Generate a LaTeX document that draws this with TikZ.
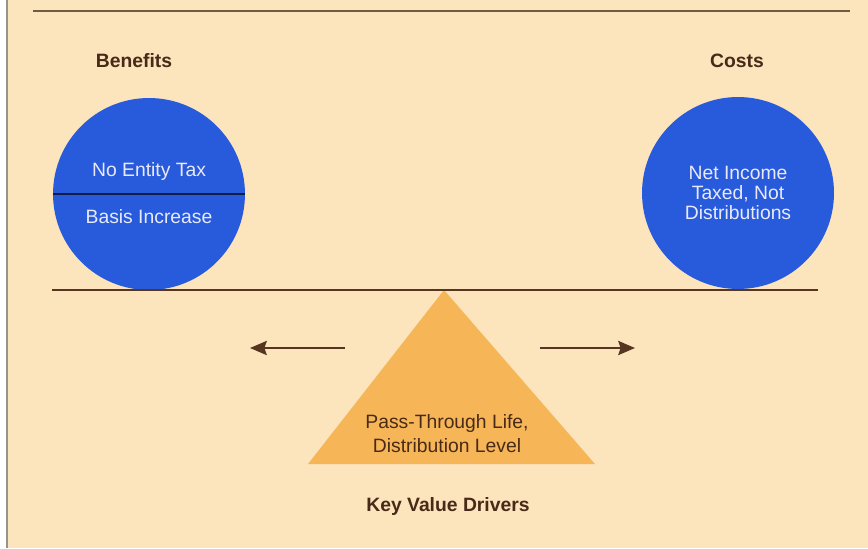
\documentclass[tikz,border=0pt]{standalone}
\usepackage{fontspec}
\setmainfont{Liberation Sans}
\usetikzlibrary{arrows.meta}

\definecolor{paper}{RGB}{252,228,188}
\definecolor{edge}{RGB}{150,146,140}
\definecolor{disc}{RGB}{40,90,220}
\definecolor{discink}{RGB}{232,234,248}
\definecolor{divider}{RGB}{16,28,70}
\definecolor{beam}{RGB}{86,54,32}
\definecolor{topline}{RGB}{112,92,62}
\definecolor{ink}{RGB}{72,42,24}
\definecolor{fulcrum}{RGB}{246,182,88}

\begin{document}
\begin{tikzpicture}[x=0.02cm,y=-0.02cm,
  heading/.style={font=\fontsize{11}{13}\selectfont\bfseries, text=ink},
  weight/.style={circle, fill=disc, minimum size=3.84cm, inner sep=0pt,
    text=discink, align=center, font=\fontsize{11}{11.6}\selectfont},
  disctext/.style={text=discink, font=\fontsize{11}{13}\selectfont},
  pivottext/.style={text=ink, align=center, font=\fontsize{11}{13.6}\selectfont},
  push/.style={draw=beam, line width=1.4pt, -{Stealth[length=9.5pt,width=8pt,inset=1.3pt]}}
]
  % page: white margin strip, grey edge, beige sheet
  \useasboundingbox (0,0) rectangle (868,548);
  \fill[white] (0,0) rectangle (7,548);
  \fill[paper] (7,0) rectangle (868,548);
  \draw[edge, line width=0.9pt] (7,0) -- (7,548);

  % rule across the top
  \coordinate (topL) at (33,11);
  \coordinate (topR) at (850,11);
  \draw[topline, line width=1.2pt] (topL) -- (topR);

  % column headings
  \node[heading] (benefits) at (134,61) {Benefits};
  \node[heading] (costs) at (737,61) {Costs};

  % beam of the balance
  \coordinate (beamL) at (52,290);
  \coordinate (beamR) at (818,290);

  % fulcrum
  \coordinate (apex) at (444,290);
  \coordinate (baseL) at (308,464);
  \coordinate (baseR) at (595,464);
  \fill[fulcrum] (apex) -- (baseL) -- (baseR) -- cycle;
  \node[pivottext] (drivers) at (447,434) {Pass-Through Life,\\Distribution Level};

  % weights resting on the beam
  \node[weight] (benefit) at (149,194) {};
  \draw[divider, line width=1.4pt] (benefit.west) -- (benefit.east);
  \node[disctext] (noTax) at (149,171) {No Entity Tax};
  \node[disctext] (basis) at (149,217) {Basis Increase};

  \node[weight] (cost) at (738,193) {Net Income\\Taxed, Not\\Distributions};

  \draw[beam, line width=1.5pt] (beamL) -- (beamR);

  % tilt arrows
  \coordinate (leftTail) at (345,348);
  \coordinate (leftTip) at (250,348);
  \coordinate (rightTail) at (540,348);
  \coordinate (rightTip) at (635,348);
  \draw[push] (leftTail) -- (leftTip);
  \draw[push] (rightTail) -- (rightTip);

  \node[heading] (keyDrivers) at (448,506) {Key Value Drivers};
\end{tikzpicture}
\end{document}
